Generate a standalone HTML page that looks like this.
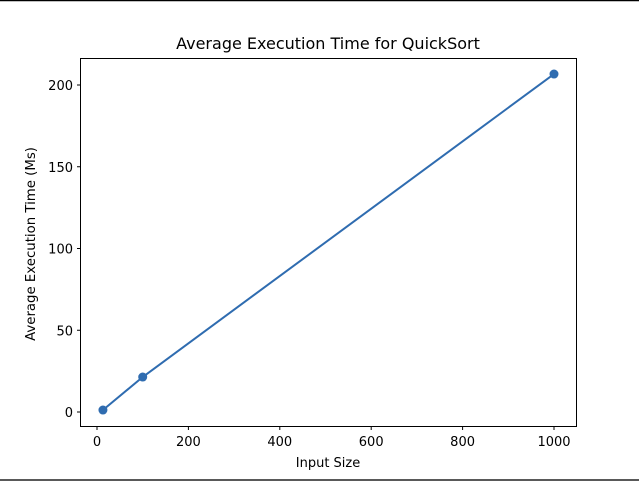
<!DOCTYPE html>
<html><head><meta charset="utf-8"><style>
body{margin:0;background:#fff;}
svg{display:block;font-family:"DejaVu Sans","Liberation Sans",sans-serif;}
</style></head><body>
<svg id="chart" width="639" height="481">
<line x1="0" y1="0.5" x2="639" y2="0.5" stroke="#000" stroke-width="1.5"/>
<line x1="0" y1="480" x2="639" y2="480" stroke="#222" stroke-width="1.5"/>
<text x="328" y="49" font-size="16" text-anchor="middle">Average Execution Time for QuickSort</text>
<text x="328" y="467" font-size="13" text-anchor="middle">Input Size</text>
<text transform="translate(35,244) rotate(-90)" font-size="13.3" text-anchor="middle">Average Execution Time (Ms)</text>
<g id="ticks"></g>
<g id="marks"></g>
<rect x="80.5" y="58.5" width="496" height="368" fill="none" stroke="#000" stroke-width="1"/>
</svg>
<script>
const inputSizes = [13, 100, 1000];
const avgTimes = [1.2, 21.4, 206.7];
const xTicks = [0, 200, 400, 600, 800, 1000];
const yTicks = [0, 50, 100, 150, 200];
const NS = "http://www.w3.org/2000/svg";
function xs(v){return 97 + v*0.457;}
function ys(v){return 412 - v*1.635;}
function mk(tag, attrs, parent){const e=document.createElementNS(NS,tag);for(const k in attrs)e.setAttribute(k,attrs[k]);parent.appendChild(e);return e;}
const tg=document.getElementById('ticks'), mg=document.getElementById('marks');
xTicks.forEach(t=>{
  const l=mk('line',{x1:xs(t),x2:xs(t),y1:426.5,y2:430,stroke:'#000'},tg);
  
  
  const tx=mk('text',{x:xs(t),y:446,'font-size':13,'text-anchor':'middle'},tg);tx.textContent=t;
  
  
});
yTicks.forEach(t=>{
  const l=mk('line',{x1:77,x2:80.5,y1:ys(t),y2:ys(t),stroke:'#000'},tg);
  
  
  const tx=mk('text',{x:73,y:ys(t)+5,'font-size':13,'text-anchor':'end'},tg);tx.textContent=t;
  
  
});
const pts=inputSizes.map((v,i)=>xs(v)+','+ys(avgTimes[i])).join(' ');
const pl=mk('polyline',{points:pts,fill:'none',stroke:'#2f6cb0','stroke-width':2},mg);


inputSizes.forEach((v,i)=>{
  const c=mk('circle',{cx:xs(v),cy:ys(avgTimes[i]),r:4.5,fill:'#2f6cb0'},mg);
  
  
});
</script>
</body></html>
